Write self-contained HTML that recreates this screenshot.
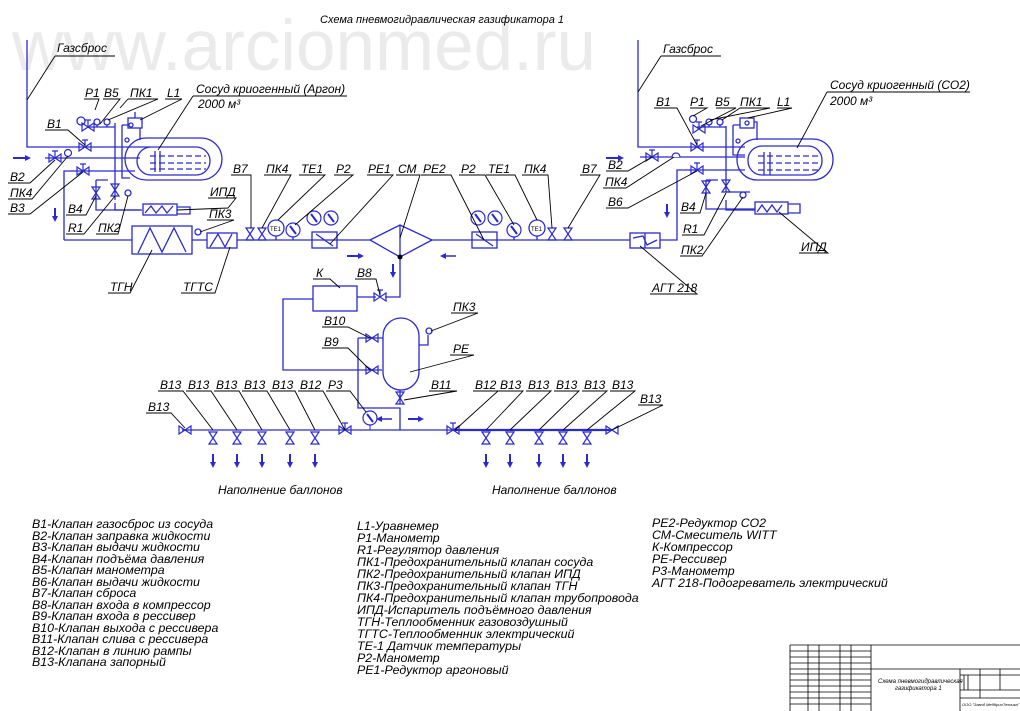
<!DOCTYPE html>
<html><head><meta charset="utf-8"><style>
html,body{margin:0;padding:0;background:#fff;}
svg{display:block;}
text{font-family:"Liberation Sans",sans-serif;font-style:italic;font-size:12px;fill:#000;}
.b{stroke:#2a2ad0;fill:none;stroke-width:1.3;}
.k{stroke:#000;fill:none;stroke-width:0.9;}
.lg text{font-size:12.4px;}
</style></head><body>
<svg width="1020" height="711" viewBox="0 0 1020 711" xmlns="http://www.w3.org/2000/svg">
<defs>
<g id="vh"><path d="M-6,-4 L6,4 L6,-4 L-6,4 Z" fill="none" stroke="#2a2ad0" stroke-width="1.2"/><path d="M0,0 V-7 M-3,-7 H3" stroke="#2a2ad0" stroke-width="1.2"/></g>
<g id="vh2"><path d="M-6,-4 L6,4 L6,-4 L-6,4 Z" fill="none" stroke="#2a2ad0" stroke-width="1.2"/></g>
<g id="vv"><path d="M-4,-6 L4,6 L-4,6 L4,-6 Z" fill="none" stroke="#2a2ad0" stroke-width="1.2"/></g>
<g id="ar"><path d="M0,-6 V4" stroke="#2a2ad0" stroke-width="2"/><path d="M-3,2 L0,8 L3,2Z" fill="#2a2ad0"/></g>
<g id="gauge"><circle r="7" fill="#fff" stroke="#2a2ad0" stroke-width="1.2"/><path d="M-3,-4 L3,4" stroke="#2a2ad0" stroke-width="2"/></g>
</defs>
<text x="12" y="70" style="font-size:71px;fill:#ebebeb;font-style:normal">www.arcionmed.ru</text>
<text x="320" y="23" style="font-size:11px">Схема пневмогидравлическая газификатора 1</text>

<!-- ===== LEFT VESSEL ===== -->
<g class="b">
<path d="M27,40 V147 H150"/>
<path d="M45,158 H140"/>
<path d="M64,240 V171 H135"/>
<path d="M64,240 H132"/>
<rect x="125" y="138" width="97" height="42" rx="21"/>
<rect x="137" y="147" width="73" height="28" rx="14"/>
<path d="M150,156 H206 M150,163 H206 M150,169 H206" stroke-dasharray="6,3"/>
<path d="M155,151 V172 M160,151 V172"/>
<path d="M115,123 V200 M115,203 V210 H140"/>
<path d="M122,125 V178 H130 M122,125 H128"/>
<path d="M96,180 V210 H142 M96,180 H108"/>
<rect x="128" y="118" width="14" height="10"/>
<circle cx="131" cy="125" r="2"/>
<path d="M135,118 V112 M140,128 V140"/>
<path d="M87,127 H115 M97,125 V127 M107,125 V127"/>
<circle cx="97" cy="122" r="3"/><circle cx="107" cy="122" r="3"/>
<circle cx="81" cy="121" r="4"/>
<circle cx="127" cy="140" r="2"/>
<rect x="143" y="204" width="34" height="11"/>
<path d="M145,213 L151,206 L156,213 L162,206 L167,213 L173,206"/>
<path d="M177,207 H190 V214 H177"/>
<circle cx="128" cy="193" r="3"/>
<rect x="132" y="226" width="60" height="28"/>
<path d="M138,253 L150,228 L162,252 L174,228 L186,252"/>
<rect x="207" y="233" width="30" height="15"/>
<path d="M210,247 L218,234 L225,247 L232,234"/>
<path d="M192,240 H207 M237,240 H370"/>
<circle cx="198" cy="232" r="3"/>
</g>
<use href="#vh" x="85" y="147"/>
<use href="#vh" x="55" y="158"/>
<use href="#vh" x="83" y="171"/>
<use href="#vh" x="88" y="127"/>
<use href="#vv" x="96" y="193"/>
<use href="#vv" x="115" y="190"/>
<circle cx="68" cy="153" r="3.5" fill="#fff" stroke="#2a2ad0" stroke-width="1.2"/>
<path d="M13,158 H27" stroke="#2a2ad0" stroke-width="2"/><path d="M25,155 L31,158 L25,161Z" fill="#2a2ad0"/>
<use href="#ar" x="55" y="214"/>

<!-- ===== CENTER LINE ===== -->
<use href="#vv" x="250" y="234"/>
<use href="#vv" x="262" y="234"/>
<g class="b">
<path d="M430,240 H630 M660,240 H677 V170 H745"/>
<circle cx="276" cy="228" r="8"/><path d="M276,236 V240 M293,237 V240"/>
<rect x="312" y="232" width="25" height="16"/><path d="M316,234 L333,246"/>
<path d="M370,240 L400,225 L432,240 L400,257 Z M400,225 V257"/>
<path d="M400,257 V297 H385 M376,297 H357"/>
<rect x="313" y="286" width="44" height="25"/>
<path d="M313,299 H283 V370 H382 M358,338 H383 M358,338 V408 H400 V430"/>
<rect x="383" y="318" width="36" height="72" rx="18"/>
<path d="M419,345 H428 V335"/>
<circle cx="429" cy="331" r="3"/>
<path d="M400,390 V404"/>
<rect x="472" y="232" width="25" height="16"/><path d="M476,234 L493,246"/>
<circle cx="537" cy="228" r="8"/><path d="M537,236 V240 M514,237 V240"/>
<rect x="630" y="233" width="30" height="15"/><path d="M633,238 L643,236 L647,245 L657,240"/>
<path d="M645,233 V248"/>
<path d="M182,430 H455"/>
</g>
<text x="270" y="231" style="font-size:6px;font-style:normal">TE1</text>
<text x="531" y="231" style="font-size:6px;font-style:normal">TE1</text>
<use href="#gauge" x="293" y="230"/>
<use href="#gauge" x="314" y="218"/>
<use href="#gauge" x="331" y="218"/>
<use href="#gauge" x="478" y="218"/>
<use href="#gauge" x="495" y="218"/>
<use href="#gauge" x="514" y="230"/>
<use href="#vv" x="552" y="234"/>
<use href="#vv" x="568" y="234"/>
<circle cx="400" cy="257" r="2.5" fill="#000"/>
<use href="#vh" x="380" y="297"/>
<use href="#vh2" x="372" y="338"/>
<use href="#vh2" x="372" y="370"/>
<use href="#vv" x="400" y="398"/>
<path d="M347,256 H360" stroke="#2a2ad0" stroke-width="2"/><path d="M358,253 L364,256 L358,259Z" fill="#2a2ad0"/>
<path d="M444,256 H456" stroke="#2a2ad0" stroke-width="1.5"/><path d="M446,253 L440,256 L446,259Z" fill="#2a2ad0"/>
<use href="#ar" x="393" y="270"/>
<use href="#gauge" x="370" y="418"/>
<path d="M370,425 V430" stroke="#2a2ad0"/>
<path d="M380,419 H392" stroke="#2a2ad0" stroke-width="1.5"/><path d="M382,416 L376,419 L382,422Z" fill="#2a2ad0"/>
<path d="M408,419 H420" stroke="#2a2ad0" stroke-width="2"/><path d="M418,416 L424,419 L418,422Z" fill="#2a2ad0"/>

<!-- bottom line -->
<path d="M455,430 H612" stroke="#2a2ad0" stroke-width="2.2"/>
<use href="#vh2" x="185" y="430"/>
<use href="#vh" x="345" y="430"/>
<use href="#vh" x="453" y="430"/>
<use href="#vh2" x="612" y="430"/>
<g>
<use href="#vv" x="213" y="438"/><use href="#vv" x="237" y="438"/><use href="#vv" x="262" y="438"/><use href="#vv" x="290" y="438"/><use href="#vv" x="315" y="438"/>
<use href="#vv" x="486" y="438"/><use href="#vv" x="510" y="438"/><use href="#vv" x="539" y="438"/><use href="#vv" x="563" y="438"/><use href="#vv" x="587" y="438"/>
<use href="#ar" x="213" y="460"/><use href="#ar" x="237" y="460"/><use href="#ar" x="262" y="460"/><use href="#ar" x="290" y="460"/><use href="#ar" x="315" y="460"/>
<use href="#ar" x="486" y="460"/><use href="#ar" x="510" y="460"/><use href="#ar" x="539" y="460"/><use href="#ar" x="563" y="460"/><use href="#ar" x="587" y="460"/>
</g>
<text x="218" y="494">Наполнение баллонов</text>
<text x="492" y="494">Наполнение баллонов</text>

<!-- ===== RIGHT VESSEL ===== -->
<g class="b">
<path d="M638,40 V147 H745"/>
<path d="M640,157 H745"/>
<rect x="737" y="139" width="96" height="41" rx="20"/>
<rect x="748" y="146" width="74" height="29" rx="14"/>
<path d="M758,156 H818 M758,163 H818 M758,170 H818" stroke-dasharray="6,3"/>
<path d="M764,152 V175 M770,152 V175"/>
<path d="M726,126 V192 H750 M726,200 V210 H755"/>
<path d="M733,125 V155 H745 M733,125 H740"/>
<path d="M706,180 V209 H755 M706,180 H718"/>
<rect x="740" y="118" width="14" height="10"/><circle cx="747" cy="123" r="2"/>
<path d="M754,122 H757 V140"/>
<path d="M697,127 H726 M709,125 V127 M720,125 V127"/>
<circle cx="709" cy="122" r="3"/><circle cx="720" cy="122" r="3"/>
<circle cx="693" cy="119" r="3.5"/>
<circle cx="743" cy="195" r="3"/>
<circle cx="738" cy="141" r="2"/>
<rect x="755" y="202" width="33" height="12"/>
<path d="M757,212 L762,205 L767,212 L772,205 L777,212 L782,205"/>
<path d="M788,204 H800 V213 H788"/>
</g>
<use href="#vh" x="697" y="147"/>
<use href="#vh" x="652" y="157"/>
<use href="#vh" x="697" y="170"/>
<use href="#vh" x="699" y="129"/>
<use href="#vv" x="706" y="187"/>
<use href="#vv" x="726" y="186"/>
<path d="M672,157 a4,4 0 1 1 8,0" fill="#fff" stroke="#2a2ad0" stroke-width="1.2"/>
<path d="M606,158 H620" stroke="#2a2ad0" stroke-width="2"/><path d="M618,155 L624,158 L618,161Z" fill="#2a2ad0"/>
<use href="#ar" x="667" y="210"/>

<!-- ===== LABELS ===== -->
<g class="k">
<path d="M55,56 H115 M55,56 L27,100"/>
<path d="M193,96 H347 M193,96 L158,150"/>
<path d="M45,130 H68 L85,145"/>
<path d="M84,99 H99 L95,110 M103,99 H120 L100,124 M128,99 H158 L108,120 M128,99 L120,108 M165,99 H182 L140,120"/>
<path d="M8,183 H30 L55,160 M8,199 H32 L68,156 M8,214 H30 L83,172"/>
<path d="M66,215 H86 L96,196 M66,234 H84 L115,196 M96,234 H118 L128,196"/>
<path d="M208,198 H236 L228,208 L177,210"/>
<path d="M207,220 H234 L200,232"/>
<path d="M108,293 H130 L152,250 M181,293 H215 L230,247"/>
<path d="M231,175 H251 L251,228 M264,175 H291 L262,228 M299,175 H325 L278,220 M334,175 H353 L295,225 M367,175 H393 L330,244 M396,175 H420 L400,238 M421,175 H451 L484,240 M459,175 H485 L514,225 M486,175 H515 L537,220 M522,175 H548 L552,228 M580,175 H600 L568,228"/>
<path d="M313,279 H330 L340,288 M355,279 H376 L380,295 M322,327 H348 L370,338 M322,348 H348 L370,370"/>
<path d="M451,313 H478 L431,331 M450,355 H474 L410,372 M429,391 H457 L404,400"/>
<path d="M158,391 H183 L213,430 M186,391 H211 L237,430 M214,391 H239 L262,430 M242,391 H267 L290,430 M270,391 H295 L315,430 M298,391 H323 L345,430 M326,391 H350 L366,412"/>
<path d="M146,413 H171 L185,428"/>
<path d="M473,391 H498 L455,430 M498,391 H523 L486,430 M526,391 H551 L510,430 M554,391 H579 L539,430 M582,391 H607 L563,430 M610,391 H635 L587,430"/>
<path d="M638,405 H663 L612,430"/>
<path d="M661,56 H721 M661,56 L638,92"/>
<path d="M827,92 H970 M827,92 L797,148"/>
<path d="M654,108 H677 L697,145 M690,108 H707 L693,116 M716,108 H736 L701,126 M740,108 H770 L710,120 M740,108 L722,120 M777,108 H792 L748,118"/>
<path d="M606,171 H628 L652,157 M603,188 H626 L674,157 M606,208 H628 L697,171"/>
<path d="M680,213 H700 L706,193 M682,235 H704 L726,193 M680,256 H702 L743,197"/>
<path d="M799,253 H828 L779,212"/>
<path d="M650,294 H697 L640,246"/>
</g>
<text x="57" y="52">Газсброс</text>
<text x="196" y="93">Сосуд криогенный (Аргон)</text>
<text x="198" y="108">2000 м³</text>
<text x="47" y="128">В1</text>
<text x="85" y="97">Р1</text><text x="104" y="97">В5</text><text x="130" y="97">ПК1</text><text x="167" y="97">L1</text>
<text x="10" y="181">В2</text><text x="10" y="197">ПК4</text><text x="10" y="212">В3</text>
<text x="68" y="213">В4</text><text x="68" y="232">R1</text><text x="98" y="232">ПК2</text>
<text x="210" y="196">ИПД</text><text x="209" y="218">ПК3</text>
<text x="110" y="291">ТГН</text><text x="183" y="291">ТГТС</text>
<text x="233" y="173">В7</text><text x="266" y="173">ПК4</text><text x="301" y="173">ТЕ1</text><text x="336" y="173">Р2</text><text x="368" y="173">РЕ1</text><text x="398" y="173">СМ</text><text x="423" y="173">РЕ2</text><text x="461" y="173">Р2</text><text x="488" y="173">ТЕ1</text><text x="524" y="173">ПК4</text><text x="582" y="173">В7</text>
<text x="316" y="277">К</text><text x="357" y="277">В8</text><text x="324" y="325">В10</text><text x="324" y="346">В9</text>
<text x="453" y="311">ПК3</text><text x="453" y="353">РЕ</text><text x="431" y="389">В11</text>
<text x="160" y="389">В13</text><text x="188" y="389">В13</text><text x="216" y="389">В13</text><text x="244" y="389">В13</text><text x="272" y="389">В13</text><text x="300" y="389">В12</text><text x="328" y="389">Р3</text>
<text x="148" y="411">В13</text>
<text x="475" y="389">В12</text><text x="500" y="389">В13</text><text x="528" y="389">В13</text><text x="556" y="389">В13</text><text x="584" y="389">В13</text><text x="612" y="389">В13</text>
<text x="640" y="403">В13</text>
<text x="663" y="53">Газсброс</text>
<text x="830" y="89">Сосуд криогенный (СО2)</text>
<text x="830" y="105">2000 м³</text>
<text x="656" y="106">В1</text><text x="690" y="106">Р1</text><text x="715" y="106">В5</text><text x="740" y="106">ПК1</text><text x="777" y="106">L1</text>
<text x="608" y="169">В2</text><text x="605" y="186">ПК4</text><text x="608" y="206">В6</text>
<text x="681" y="211">В4</text><text x="683" y="233">R1</text><text x="681" y="254">ПК2</text>
<text x="801" y="251">ИПД</text><text x="652" y="292">АГТ 218</text>

<!-- ===== LEGEND ===== -->
<g class="lg">
<text x="32" y="528">В1-Клапан газосброс из сосуда</text>
<text x="32" y="540">В2-Клапан заправка жидкости</text>
<text x="32" y="551">В3-Клапан выдачи жидкости</text>
<text x="32" y="563">В4-Клапан подъёма давления</text>
<text x="32" y="574">В5-Клапан манометра</text>
<text x="32" y="586">В6-Клапан выдачи жидкости</text>
<text x="32" y="597">В7-Клапан сброса</text>
<text x="32" y="609">В8-Клапан входа в компрессор</text>
<text x="32" y="620">В9-Клапан входа в рессивер</text>
<text x="32" y="632">В10-Клапан выхода с рессивера</text>
<text x="32" y="643">В11-Клапан слива с рессивера</text>
<text x="32" y="655">В12-Клапан в линию рампы</text>
<text x="32" y="666">В13-Клапана запорный</text>
<text x="357" y="530">L1-Уравнемер</text>
<text x="357" y="542">Р1-Манометр</text>
<text x="357" y="554">R1-Регулятор давления</text>
<text x="357" y="566">ПК1-Предохранительный клапан сосуда</text>
<text x="357" y="578">ПК2-Предохранительный клапан ИПД</text>
<text x="357" y="590">ПК3-Предохранительный клапан ТГН</text>
<text x="357" y="602">ПК4-Предохранительный клапан трубопровода</text>
<text x="357" y="614">ИПД-Испаритель подъёмного давления</text>
<text x="357" y="626">ТГН-Теплообменник газовоздушный</text>
<text x="357" y="638">ТГТС-Теплообменник электрический</text>
<text x="357" y="650">ТЕ-1 Датчик температуры</text>
<text x="357" y="662">Р2-Манометр</text>
<text x="357" y="674">РЕ1-Редуктор аргоновый</text>
<text x="652" y="527">РЕ2-Редуктор СО2</text>
<text x="652" y="539">СМ-Смеситель WITT</text>
<text x="652" y="551">К-Компрессор</text>
<text x="652" y="563">РЕ-Рессивер</text>
<text x="652" y="575">Р3-Манометр</text>
<text x="652" y="587">АГТ 218-Подогреватель электрический</text>
</g>

<!-- ===== TITLE BLOCK ===== -->
<g stroke="#000" fill="none" stroke-width="0.8">
<path d="M790,645 H1020 M790,645 V711 M871,645 V711 M808,645 V711 M819,645 V711 M840,645 V711 M851,645 V711"/>
<path d="M790,651 H871 M790,657 H871 M790,663 H871 M790,669 H1020 M790,674 H871 M790,680 H871 M790,686 H871 M790,692 H871 M790,698 H871 M790,704 H871"/>
<path d="M960,669 V711 M960,675 H1020 M960,690 H1020 M960,698 H1020 M980,669 V698 M1000,669 V690 M964,675 V690 M968,675 V690"/>
</g>
<text x="878" y="683" style="font-size:6px">Схема пневмогидравлическая</text>
<text x="895" y="690" style="font-size:6px">газификатора 1</text>
<text x="962" y="706" style="font-size:4px">ООО "Завод МедКриоТехника"</text>
</svg>
</body></html>
